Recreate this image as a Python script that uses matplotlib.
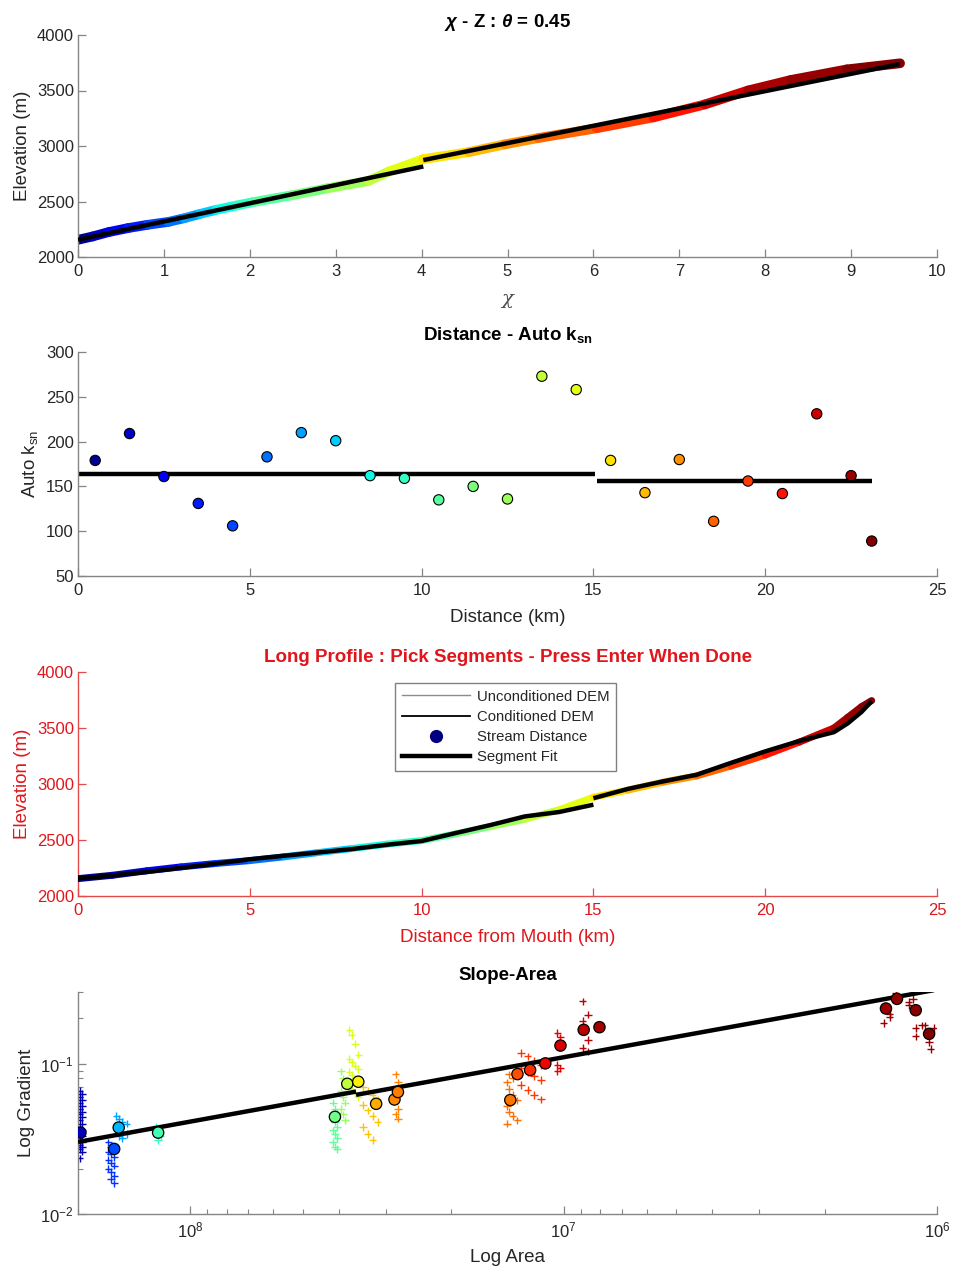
import numpy as np
import matplotlib
matplotlib.use("Agg")
import matplotlib.pyplot as plt
from matplotlib.collections import LineCollection
from matplotlib.lines import Line2D
from matplotlib.ticker import MultipleLocator, LogLocator, NullFormatter

plt.rcParams['font.family'] = ['Liberation Sans', 'DejaVu Sans']
plt.rcParams['mathtext.fontset'] = 'custom'
plt.rcParams['mathtext.rm'] = 'Liberation Sans'
plt.rcParams['mathtext.it'] = 'Liberation Sans:italic:bold'
plt.rcParams['mathtext.bf'] = 'Liberation Sans:bold'
plt.rcParams['axes.unicode_minus'] = False

# ---------------- river profile (nodes along the stream) ----------------
dist_km = [0, 1, 2, 3, 4, 5, 6, 7, 8, 9, 10, 11, 12, 13, 14, 15,
           16, 17, 18, 19, 20, 21, 22, 22.4, 22.8, 23.1]
elev_m = [2155, 2185, 2225, 2260, 2290, 2316, 2350, 2388, 2425, 2463, 2495,
          2555, 2620, 2685, 2770, 2882, 2945, 3015, 3072, 3160, 3258, 3375,
          3500, 3595, 3690, 3745]
chi_m = [0.00, 0.17, 0.36, 0.58, 0.81, 1.05, 1.24, 1.42, 1.61, 1.84, 2.04,
         2.48, 2.91, 3.38, 3.62, 4.02, 4.55, 4.97, 5.36, 6.04, 6.70, 7.30,
         7.80, 8.30, 8.95, 9.57]
dist_max = 23.1

# ---------------- segment fits (chi-z) ----------------
seg_ksn = [164, 156]
seg_z0 = [2156, 2246]
seg_chi = [(0.0, 4.02), (4.02, 9.57)]
seg_dist = [(0.0, 15.05), (15.1, 23.1)]
seg_break_node = 15          # index of the node where the two segments meet
theta = 0.45

# ---------------- auto ksn (1 km bins) ----------------
ksn_dist = [0.5, 1.5, 2.5, 3.5, 4.5, 5.5, 6.5, 7.5, 8.5, 9.5, 10.5, 11.5,
            12.5, 13.5, 14.5, 15.5, 16.5, 17.5, 18.5, 19.5, 20.5, 21.5, 22.5, 23.1]
ksn_vals = [179, 209, 161, 131, 106, 183, 210, 201, 162, 159, 135, 150,
            136, 273, 258, 179, 143, 180, 111, 156, 142, 231, 162, 89]

# ---------------- slope-area: binned means ----------------
bin_area = [1.97e8, 1.60e8, 1.556e8, 1.22e8, 4.1e7, 3.8e7, 3.55e7, 3.18e7,
            2.84e7, 2.78e7, 1.39e7, 1.33e7, 1.23e7, 1.12e7, 1.02e7, 8.84e6,
            8.02e6, 1.37e6, 1.28e6, 1.14e6, 1.05e6]
bin_grad = [0.0348, 0.0271, 0.0376, 0.0348, 0.0443, 0.0735, 0.0759, 0.0541,
            0.0578, 0.0648, 0.0573, 0.0853, 0.0908, 0.1005, 0.132, 0.168,
            0.175, 0.233, 0.270, 0.227, 0.158]
bin_dist = [1.0, 4.6, 7.0, 10.1, 11.2, 13.4, 15.1, 16.7, 17.6, 17.9, 18.2,
            19.1, 20.0, 20.9, 21.25, 21.9, 22.3, 22.5, 22.7, 22.9, 23.1]

# ---------------- slope-area: individual reach points ----------------
pt_area = (
    [1.98e8, 1.95e8] * 11 + [1.98e8]
    + [1.66e8, 1.63e8, 1.60e8] * 4 + [1.63e8, 1.60e8]
    + [1.58e8, 1.55e8, 1.52e8, 1.48e8] * 2 + [1.55e8, 1.52e8]
    + [1.24e8, 1.22e8, 1.20e8, 1.22e8]
    + [4.15e7, 4.10e7, 4.05e7] * 4
    + [3.95e7, 3.90e7, 3.85e7] * 3
    + [3.75e7, 3.70e7, 3.62e7, 3.55e7] * 4
    + [3.45e7, 3.35e7, 3.25e7, 3.15e7] * 2 + [3.45e7, 3.35e7, 3.25e7]
    + [2.82e7, 2.78e7] * 4
    + [1.42e7, 1.40e7, 1.37e7, 1.33e7] * 2 + [1.42e7, 1.40e7, 1.37e7]
    + [1.30e7, 1.25e7, 1.20e7, 1.15e7] * 3
    + [1.04e7, 1.02e7, 1.04e7, 1.02e7, 1.04e7]
    + [8.9e6, 8.6e6, 8.9e6, 8.6e6, 8.9e6, 8.6e6]
    + [1.29e6, 1.28e6, 1.34e6, 1.34e6, 1.39e6, 1.19e6, 1.19e6, 1.16e6,
       1.14e6, 1.14e6, 1.10e6, 1.08e6, 1.02e6, 1.05e6, 1.04e6]
)
pt_grad = (
    [0.066, 0.063, 0.060, 0.057, 0.055, 0.052, 0.050, 0.048, 0.046, 0.044,
     0.042, 0.040, 0.038, 0.036, 0.034, 0.033, 0.031, 0.030, 0.029, 0.028,
     0.027, 0.026, 0.0235]
    + [0.030, 0.028, 0.027, 0.026, 0.025, 0.024, 0.023, 0.022, 0.021, 0.020,
       0.019, 0.018, 0.017, 0.016]
    + [0.045, 0.043, 0.041, 0.040, 0.038, 0.037, 0.035, 0.034, 0.033, 0.032]
    + [0.038, 0.036, 0.033, 0.031]
    + [0.055, 0.050, 0.047, 0.044, 0.041, 0.038, 0.036, 0.034, 0.032, 0.030,
       0.028, 0.027]
    + [0.089, 0.080, 0.072, 0.066, 0.060, 0.055, 0.050, 0.046, 0.042]
    + [0.168, 0.155, 0.135, 0.115, 0.108, 0.102, 0.097, 0.092, 0.088, 0.084,
       0.080, 0.076, 0.072, 0.068, 0.064, 0.060]
    + [0.070, 0.066, 0.062, 0.058, 0.053, 0.049, 0.045, 0.041, 0.038, 0.034,
       0.031]
    + [0.085, 0.075, 0.068, 0.062, 0.057, 0.050, 0.046, 0.043]
    + [0.075, 0.068, 0.062, 0.057, 0.052, 0.048, 0.045, 0.042, 0.040, 0.085,
       0.080]
    + [0.118, 0.112, 0.105, 0.098, 0.093, 0.088, 0.083, 0.078, 0.072, 0.067,
       0.062, 0.058]
    + [0.160, 0.150, 0.098, 0.093, 0.089]
    + [0.260, 0.212, 0.192, 0.144, 0.127, 0.121]
    + [0.296, 0.273, 0.214, 0.204, 0.187, 0.258, 0.245, 0.270, 0.173, 0.152,
       0.180, 0.180, 0.173, 0.139, 0.125]
)
pt_dist = (
    [1.0] * 23 + [4.0] * 14 + [6.5] * 10 + [9.5] * 4 + [10.8] * 12
    + [12.3] * 9 + [14.2] * 16 + [16.2] * 11 + [17.8] * 8 + [18.3] * 11
    + [19.6] * 12 + [21.0] * 5 + [21.8] * 6 + [22.6] * 15
)

cmap = plt.get_cmap('jet')


def jet(d):
    return cmap(np.clip(np.asarray(d, dtype=float) / dist_max, 0, 1))


W, H = 956, 1272
fig = plt.figure(figsize=(W / 100, H / 100), dpi=100)


def add_axes(left, top, right, bottom):
    return fig.add_axes([left / W, 1 - bottom / H, (right - left) / W, (bottom - top) / H])


TXT = '#262626'
SPN = '#858585'
RED_T = '#e0161c'
RED_S = '#e34a4a'


def style(ax, text=TXT, spine=SPN):
    for s in ['top', 'right']:
        ax.spines[s].set_visible(False)
    for s in ['left', 'bottom']:
        ax.spines[s].set_color(spine)
        ax.spines[s].set_linewidth(1.0)
    ax.tick_params(which='major', direction='in', length=6, width=0.9,
                   color=spine, labelcolor=text, labelsize=12, pad=3)
    ax.tick_params(axis='x', which='major', pad=5)
    ax.tick_params(which='minor', direction='in', length=3.5, width=0.8, color=spine)


def colored_path(ax, xs, ys, lw, z=2):
    xs = np.asarray(xs, float)
    ys = np.asarray(ys, float)
    d = np.asarray(dist_km, float)
    segs = [[(xs[i], ys[i]), (xs[i + 1], ys[i + 1])] for i in range(len(xs) - 1)]
    cols = [jet(0.5 * (d[i] + d[i + 1])) for i in range(len(xs) - 1)]
    lc = LineCollection(segs, colors=cols, linewidths=lw, capstyle='round', zorder=z)
    ax.add_collection(lc)


chi = np.asarray(chi_m)
elev = np.asarray(elev_m)
dist = np.asarray(dist_km)

# ---------------- panel 1: chi - elevation ----------------
ax1 = add_axes(78, 35, 937, 257)
style(ax1)
colored_path(ax1, chi, elev, 7.0)
for k, (c0, c1) in enumerate(seg_chi):
    cc = np.array([c0, c1])
    ax1.plot(cc, seg_z0[k] + seg_ksn[k] * cc, color='black', lw=3.2, zorder=4,
             solid_capstyle='butt')
ax1.set_xlim(0, 10)
ax1.set_ylim(2000, 4000)
ax1.xaxis.set_major_locator(MultipleLocator(1))
ax1.yaxis.set_major_locator(MultipleLocator(500))
ax1.set_ylabel('Elevation (m)', fontsize=13.5, color=TXT, labelpad=4)
ax1.set_xlabel('χ', fontsize=14, color='#505050', family='DejaVu Serif',
               style='italic', labelpad=8)
ax1.set_title(r'$\chi$ - Z : $\theta$ = 0.45', fontsize=13.5, fontweight='bold',
              color='black', pad=6)

# ---------------- panel 2: distance - auto ksn ----------------
ax2 = add_axes(78, 352, 937, 576)
style(ax2)
for k, (d0, d1) in enumerate(seg_dist):
    ax2.plot([d0, d1], [seg_ksn[k], seg_ksn[k]], color='black', lw=3.2, zorder=2,
             solid_capstyle='butt')
ax2.scatter(ksn_dist, ksn_vals, s=55, c=[jet(d) for d in ksn_dist],
            edgecolors='black', linewidths=0.8, zorder=3)
ax2.set_xlim(0, 25)
ax2.set_ylim(50, 300)
ax2.xaxis.set_major_locator(MultipleLocator(5))
ax2.yaxis.set_major_locator(MultipleLocator(50))
ax2.set_xlabel('Distance (km)', fontsize=13.5, color=TXT, labelpad=8)
ax2.set_ylabel(r'Auto k$_{\mathrm{sn}}$', fontsize=13.5, color=TXT, labelpad=4)
ax2.set_title(r'Distance - Auto k$_{\mathbf{sn}}$', fontsize=13.5, fontweight='bold',
              color='black', pad=9)

# ---------------- panel 3: long profile ----------------
ax3 = add_axes(78, 672, 937, 896)
style(ax3, text=RED_T, spine=RED_S)
ax3.plot(dist, elev, color='#8c8c8c', lw=1.0, zorder=1)
ax3.plot(dist, elev, color='black', lw=1.2, zorder=2)
colored_path(ax3, dist, elev, 5.0, z=3)
b = seg_break_node
for k, sl in enumerate([slice(0, b + 1), slice(b, None)]):
    ax3.plot(dist[sl], seg_z0[k] + seg_ksn[k] * chi[sl], color='black', lw=3.2,
             zorder=4, solid_capstyle='butt')
ax3.set_xlim(0, 25)
ax3.set_ylim(2000, 4000)
ax3.xaxis.set_major_locator(MultipleLocator(5))
ax3.yaxis.set_major_locator(MultipleLocator(500))
ax3.set_xlabel('Distance from Mouth (km)', fontsize=13.5, color=RED_T, labelpad=8)
ax3.set_ylabel('Elevation (m)', fontsize=13.5, color=RED_T, labelpad=4)
ax3.set_title('Long Profile : Pick Segments - Press Enter When Done', fontsize=13.5,
              fontweight='bold', color=RED_T, pad=7)
handles = [
    Line2D([], [], color='#8c8c8c', lw=1.0),
    Line2D([], [], color='black', lw=1.3),
    Line2D([], [], color=jet(0.0), marker='o', ls='none', markersize=8.5,
           markeredgecolor=jet(0.0)),
    Line2D([], [], color='black', lw=3.2),
]
labels = ['Unconditioned DEM', 'Conditioned DEM', 'Stream Distance', 'Segment Fit']
leg = ax3.legend(handles, labels, loc='upper left',
                 bbox_to_anchor=((395 - 78) / 859, (896 - 683) / 224),
                 borderaxespad=0, fontsize=10.7, frameon=True, fancybox=False,
                 edgecolor='#808080', framealpha=1, handlelength=4.6,
                 handletextpad=0.45, labelspacing=0.42, borderpad=0.45)
leg.get_frame().set_linewidth(1.0)
for t in leg.get_texts():
    t.set_color(TXT)

# ---------------- panel 4: slope-area ----------------
ax4 = add_axes(78, 992, 937, 1214)
style(ax4)
ax4.set_xscale('log')
ax4.set_yscale('log')
ax4.scatter(pt_area, pt_grad, marker='+', s=28, c=[jet(d) for d in pt_dist],
            linewidths=1.0, zorder=2)
a_break = 3.6e7
for k, (a0, a1) in enumerate([(2.0e8, a_break), (a_break, 1.02e6)]):
    aa = np.array([a0, a1])
    ax4.plot(aa, seg_ksn[k] * aa ** (-theta), color='black', lw=3.2, zorder=3,
             solid_capstyle='butt')
ax4.scatter(bin_area, bin_grad, s=66, c=[jet(d) for d in bin_dist],
            edgecolors='black', linewidths=0.9, zorder=4)
ax4.set_xlim(2.0e8, 1.0e6)
ax4.set_ylim(0.01, 0.30)
ax4.xaxis.set_major_locator(LogLocator(base=10, numticks=10))
ax4.xaxis.set_minor_locator(LogLocator(base=10, subs=np.arange(2, 10), numticks=20))
ax4.xaxis.set_minor_formatter(NullFormatter())
ax4.yaxis.set_minor_formatter(NullFormatter())
ax4.yaxis.set_minor_locator(LogLocator(base=10, subs=np.arange(2, 10), numticks=20))
ax4.set_xlabel('Log Area', fontsize=13.5, color=TXT, labelpad=6)
ax4.set_ylabel('Log Gradient', fontsize=13.5, color=TXT, labelpad=4)
ax4.set_title('Slope-Area', fontsize=13.5, fontweight='bold', color='black', pad=9)

fig.savefig('out.png', dpi=100, facecolor='white')
